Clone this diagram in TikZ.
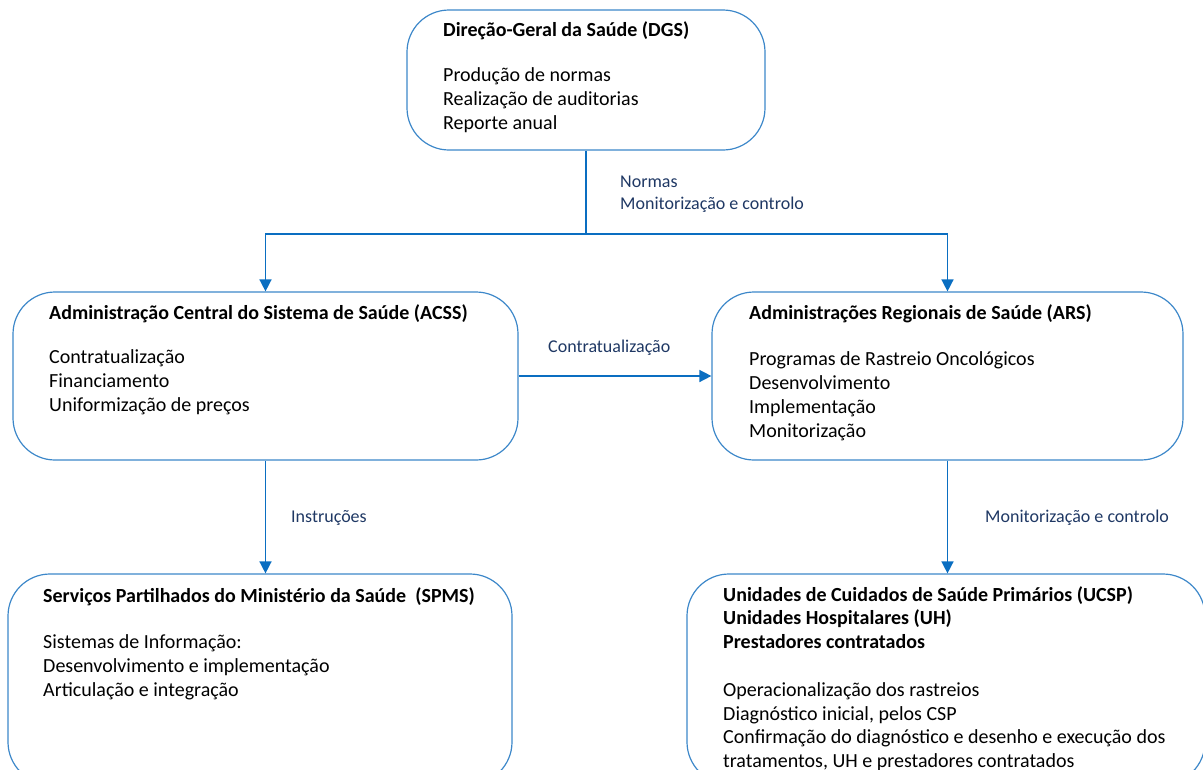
\documentclass[tikz,border=0pt]{standalone}
\usepackage{fontspec}
\setmainfont{Carlito}
\usetikzlibrary{arrows.meta}
\definecolor{boxblue}{HTML}{3C87C9}
\definecolor{linkblue}{HTML}{0A6EC1}
\definecolor{labelnavy}{HTML}{1F3864}
\tikzstyle{orgbox}=[draw=boxblue,line width=1.2pt,rounded corners=42pt,inner sep=0pt]
\tikzstyle{orgtext}=[anchor=north west,align=left,inner sep=0pt,font=\fontsize{20}{24}\selectfont]
\tikzstyle{flowlabel}=[anchor=north west,align=left,inner sep=0pt,text=labelnavy,font=\fontsize{18}{22}\selectfont]
\tikzstyle{flowarrow}=[draw=linkblue,line width=1.5pt,-{Triangle[width=12pt,length=12pt]}]

\begin{document}
\begin{tikzpicture}[x=1pt,y=-1pt]
				\useasboundingbox (0,0) rectangle (1203,769);
				\clip (0,0) rectangle (1203,769);
				\node[orgbox,minimum width=358pt,minimum height=140pt] (dgs) at (586,80) {};
				\node[orgbox,minimum width=505pt,minimum height=168pt] (acss) at (265.5,376) {};
				\node[orgbox,minimum width=471pt,minimum height=168pt] (ars) at (947.5,376) {};
				\node[orgbox,minimum width=504pt,minimum height=210pt] (spms) at (260,679) {};
				\node[orgbox,minimum width=518pt,minimum height=210pt] (ucsp) at (946,679) {};
				\node[orgtext] (dgstext) at (443,21) {\textbf{Direção-Geral da Saúde (DGS)}\\[21pt]
					Produção de normas\\ Realização de auditorias\\ Reporte anual};
				\node[orgtext] (acsstext) at (49,304) {\textbf{Administração Central do Sistema de Saúde (ACSS)}\\[20pt]
					Contratualização\\ Financiamento\\ Uniformização de preços};
				\node[orgtext] (arstext) at (749,304) {\textbf{Administrações Regionais de Saúde (ARS)}\\[22pt]
					Programas de Rastreio Oncológicos\\ Desenvolvimento\\ Implementação\\ Monitorização};
				\node[orgtext] (spmstext) at (43,587) {\textbf{Serviços Partilhados do Ministério da Saúde\ \ (SPMS)}\\[22pt]
					Sistemas de Informação:\\ Desenvolvimento e implementação\\ Articulação e integração};
				\node[orgtext,font=\fontsize{20}{23.5}\selectfont] (ucsptext) at (723,586) {\textbf{Unidades de Cuidados de Saúde Primários (UCSP)}\\
					\textbf{Unidades Hospitalares (UH)}\\ \textbf{Prestadores contratados}\\[25pt]
					Operacionalização dos rastreios\\ Diagnóstico inicial, pelos CSP\\
					Confirmação do diagnóstico e desenho e execução dos\\ tratamentos, UH e prestadores contratados};
				\coordinate (split) at (586,234);
				\draw[draw=linkblue,line width=1.5pt] (dgs.south) -- (split);
				\draw[flowarrow] (split) -| (acss.north);
				\draw[flowarrow] (split) -| (ars.north);
				\draw[flowarrow] (acss.east) -- (ars.west);
				\draw[flowarrow] (acss.south) -- (acss.south |- spms.north);
				\draw[flowarrow] (ars.south) -- (ars.south |- ucsp.north);
				\node[flowlabel] (normas) at (620,176) {Normas\\ Monitorização e controlo};
				\node[flowlabel] (contrat) at (548,340) {Contratualização};
				\node[flowlabel] (instr) at (291,510) {Instruções};
				\node[flowlabel] (monit) at (985,510) {Monitorização e controlo};
			\end{tikzpicture}
\end{document}
